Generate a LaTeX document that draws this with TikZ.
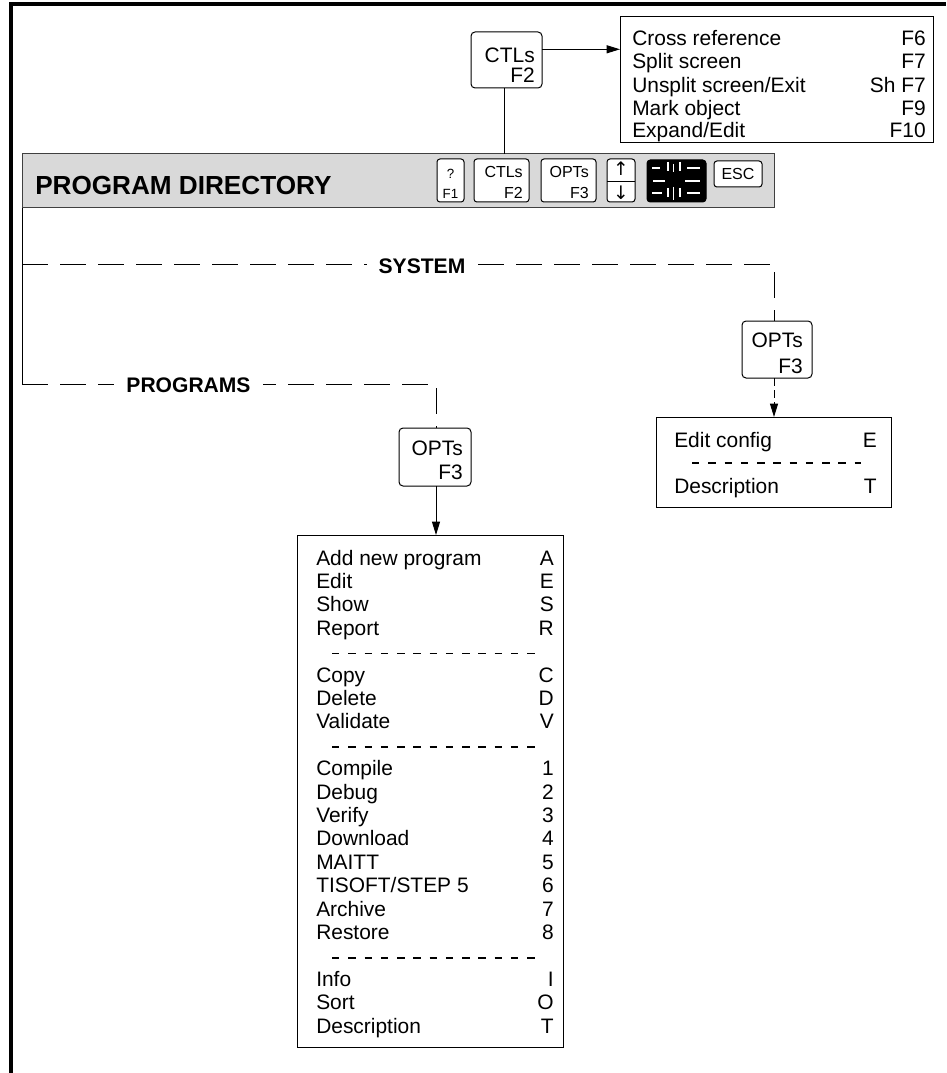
\documentclass[tikz,border=0pt]{standalone}
\usepackage{fontspec}
\setmainfont{Liberation Sans}
\newfontfamily\symfnt{DejaVu Sans}
\usetikzlibrary{arrows.meta}
\begin{document}
\begin{tikzpicture}[x=0.75pt,y=-0.75pt,
  box/.style={draw,line width=0.75pt,inner sep=0pt,outer sep=0pt},
  rbox/.style={box,rounded corners=3pt,fill=white},
  kbox/.style={box,rounded corners=2.2pt,fill=white},
  txt/.style={inner sep=0pt,font=\fontsize{15.7}{18}\selectfont},
  ktxt/.style={inner sep=0pt,font=\fontsize{12}{14}\selectfont},
  btxt/.style={inner sep=0pt,font=\bfseries\fontsize{15.8}{18}\selectfont},
  conn/.style={line width=0.75pt},
  dconn/.style={line width=0.75pt,dash pattern=on 19.5pt off 9pt},
  sepline/.style={line width=1.2pt,dash pattern=on 5.6pt off 6.6pt},
  arr/.style={-{Triangle[length=10pt,width=6pt]}},
  keymark/.style={white,line width=1.1pt},
]
\useasboundingbox (0,0) rectangle (946,1073);
\draw[line width=2.5pt] (11,1073) -- (11,4) -- (946,4);

% ---------- top CTLs box and its menu ----------
\node[rbox,minimum width=53.25pt,minimum height=42pt] (ctl) at (506.5,60) {};
\node[txt,anchor=base east] (ctlA) at (535,63) {CTLs};
\node[txt,anchor=base east] (ctlB) at (535,83) {F2};

\node[box,minimum width=234.75pt,minimum height=94.5pt] (cmenu) at (776.5,80) {};
\node[txt,anchor=base west] (c1l) at (632,45.5) {Cross reference};
\node[txt,anchor=base east] (c1r) at (926,45.5) {F6};
\node[txt,anchor=base west] (c2l) at (632,69) {Split screen};
\node[txt,anchor=base east] (c2r) at (926,69) {F7};
\node[txt,anchor=base west] (c3l) at (632,92.5) {Unsplit screen/Exit};
\node[txt,anchor=base east] (c3r) at (926,92.5) {Sh F7};
\node[txt,anchor=base west] (c4l) at (632,115.5) {Mark object};
\node[txt,anchor=base east] (c4r) at (926,115.5) {F9};
\node[txt,anchor=base west] (c5l) at (632,138) {Expand/Edit};
\node[txt,anchor=base east] (c5r) at (926,138) {F10};

% ---------- header bar ----------
\node[box,fill=black!15,draw=black!75,minimum width=564pt,minimum height=40.5pt] (hdr) at (398,181) {};
\node[inner sep=0pt,font=\bfseries\fontsize{19.6}{22}\selectfont,anchor=base west] (hdrT) at (35,195) {PROGRAM DIRECTORY};

\node[kbox,minimum width=20.25pt,minimum height=32.25pt] (k1) at (450.5,180.5) {};
\node[inner sep=0pt,font=\fontsize{10}{11}\selectfont,anchor=base] (k1a) at (450.5,179) {?};
\node[inner sep=0pt,font=\fontsize{10}{11}\selectfont,anchor=base] (k1b) at (450.5,198.5) {F1};

\node[kbox,minimum width=41.25pt,minimum height=32.25pt] (k2) at (501.5,180.5) {};
\node[ktxt,anchor=base east] (k2a) at (523,178) {CTLs};
\node[ktxt,anchor=base east] (k2b) at (523,199) {F2};

\node[kbox,minimum width=41.25pt,minimum height=32.25pt] (k3) at (568.5,180.5) {};
\node[ktxt,anchor=base east] (k3a) at (589,178) {OPTs};
\node[ktxt,anchor=base east] (k3b) at (589,199) {F3};

\node[kbox,minimum width=21pt,minimum height=32.25pt] (k4) at (621,180.5) {};
\draw[line width=0.6pt] (k4.west |- 0,181) -- (k4.east |- 0,181);
\node[inner sep=0pt,font=\symfnt\fontsize{14}{15}\selectfont] (k4a) at (621,169) {↑};
\node[inner sep=0pt,font=\symfnt\fontsize{14}{15}\selectfont] (k4b) at (621,193) {↓};

\node[box,fill=black,rounded corners=2.5pt,minimum width=44.25pt,minimum height=31.5pt] (k5) at (676.5,181) {};
\draw[keymark] (652,168) -- (660,168) (687,168) -- (700,168)
  (668,162) -- (668,171) (673.5,164) -- (673.5,172) (680,162) -- (680,171);
\draw[keymark] (653,181) -- (665,181) (685,181) -- (700,181);
\draw[keymark] (652,193) -- (662,193) (687,193) -- (700,193)
  (668,188) -- (668,197) (673.5,187) -- (673.5,200) (680,188) -- (680,197);

\node[kbox,minimum width=36pt,minimum height=19.5pt] (k6) at (738,174) {};
\node[ktxt] (k6a) at (738,174) {ESC};

% ---------- connectors from CTLs ----------
\coordinate (vx) at (504.5,0);
\draw[conn] (ctl.south -| vx) -- (hdr.north -| vx);
\coordinate (ay) at (0,49.3);
\draw[conn,arr] (ctl.east |- ay) -- (cmenu.west |- ay);

% ---------- tree ----------
\node[rbox,minimum width=52.5pt,minimum height=42.75pt] (sysopt) at (777,349.5) {};
\node[txt,anchor=base east] (sysoA) at (803,347) {OPTs};
\node[txt,anchor=base east] (sysoB) at (803,373) {F3};

\node[rbox,minimum width=54pt,minimum height=43.5pt] (progopt) at (435,457) {};
\node[txt,anchor=base east] (progoA) at (463,455) {OPTs};
\node[txt,anchor=base east] (progoB) at (463,479) {F3};

\coordinate (sysL) at (22,264);
\coordinate (sysC) at (774,264);
\coordinate (prgL) at (22,384);
\coordinate (prgC) at (436,384);

\draw[conn] (hdr.south west) -- (prgL);
\draw[dconn] (sysL) -- (sysC) -- (sysopt.north -| sysC);
\draw[dconn] (prgL) -- (prgC) -- (progopt.north -| prgC);
\node[btxt,fill=white,inner xsep=9pt,inner ysep=2pt] (sysT) at (422,266) {SYSTEM};
\node[btxt,fill=white,inner xsep=9pt,inner ysep=2pt] (prgT) at (188.5,385) {PROGRAMS};

% ---------- system options menu ----------
\node[box,minimum width=176.25pt,minimum height=67.5pt] (editbox) at (773.5,462) {};
\draw[conn,dash pattern=on 6pt off 3pt,arr] (sysopt.south -| sysC) -- (editbox.north -| sysC);
\node[txt,anchor=base west] (e1l) at (674,447) {Edit config};
\node[txt,anchor=base east] (e1r) at (877,447) {E};
\draw[sepline] (692,463) -- (861,463);
\node[txt,anchor=base west] (e2l) at (674,493) {Description};
\node[txt,anchor=base east] (e2r) at (877,493) {T};

% ---------- programs options menu ----------
\node[box,minimum width=199.5pt,minimum height=384pt] (progmenu) at (430,791) {};
\draw[conn,arr] (progopt.south -| prgC) -- (progmenu.north -| prgC);
\foreach \k/\l/\r in {0/Add new program/A, 1/Edit/E, 2/Show/S, 3/Report/R,
  5/Copy/C, 6/Delete/D, 7/Validate/V,
  9/Compile/1, 10/Debug/2, 11/Verify/3, 12/Download/4, 13/MAITT/5,
  14/{TISOFT/STEP 5}/6, 15/Archive/7, 16/Restore/8,
  18/Info/I, 19/Sort/O, 20/Description/T}{
  \node[txt,anchor=base west] (pm\k) at (316,565+23.4*\k) {\l};
  \node[txt,anchor=base east] (pk\k) at (554,565+23.4*\k) {\r};
}
\foreach \k in {4,8,17}{
  \draw[sepline] (332,560+23.4*\k) -- (538,560+23.4*\k);
}
\end{tikzpicture}
\end{document}
